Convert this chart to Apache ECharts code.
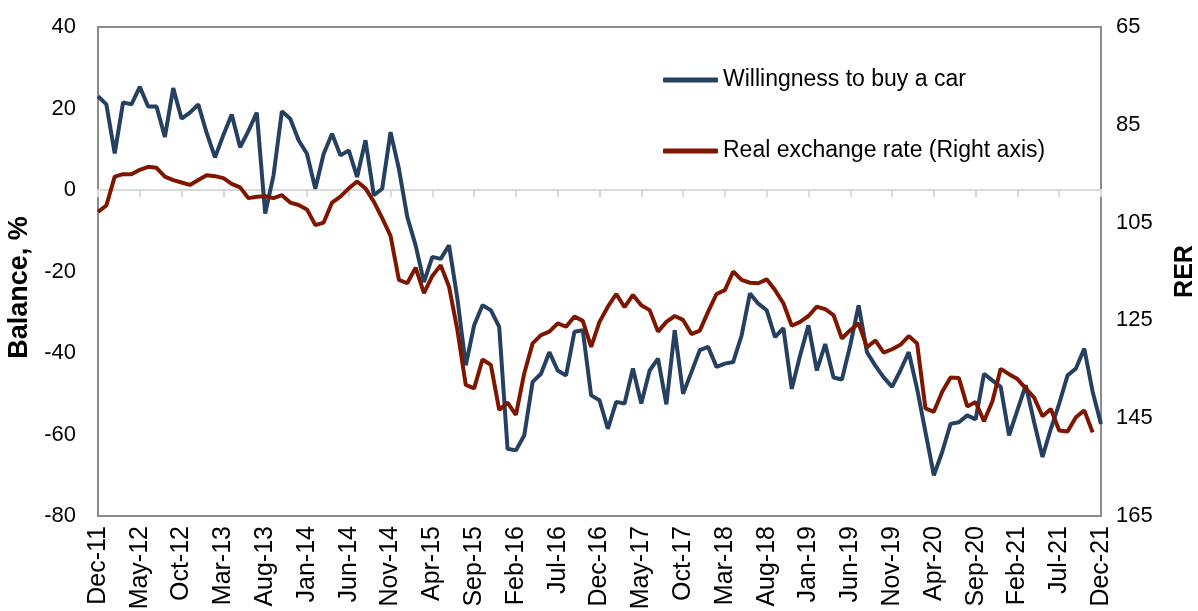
<!DOCTYPE html>
<html>
<head>
<meta charset="utf-8">
<script src="https://cdn.jsdelivr.net/npm/echarts@6/dist/echarts.min.js"></script>
<style>
  html, body { margin: 0; padding: 0; background: #fff; }
  #chart { width: 1198px; height: 611px; }
</style>
</head>
<body>
<div id="chart"></div>
<script>
// month labels Dec-11 .. Dec-21
var monthNames = ["Jan", "Feb", "Mar", "Apr", "May", "Jun", "Jul", "Aug", "Sep", "Oct", "Nov", "Dec"];
var categories = [];
for (var k = 0; k <= 120; k++) {
  var m = (11 + k) % 12;
  var yr = 11 + Math.floor((11 + k) / 12);
  categories.push(monthNames[m] + "-" + yr);
}

// Willingness to buy a car, balance %
var willingness = [
  23, 21, 9, 21.5, 21, 25.3, 20.5, 20.5, 13, 25,
  17.5, 19, 21, 14, 8, 13.5, 18.5, 10.5, 14.5, 19,
  -5.8, 3.6, 19.3, 17.5, 12.2, 8.9, 0.3, 8.9, 13.8, 8.5,
  9.7, 3.2, 12.2, -1.3, 0.3, 14.2, 5.2, -6.6, -13.6, -22.6,
  -16.4, -16.9, -13.6, -26.7, -43, -33.2, -28.3, -29.5, -33.6, -63.5,
  -63.9, -60.2, -47.1, -45.1, -39.8, -44.3, -45.5, -34.8, -34.4, -50.4,
  -51.6, -58.6, -52, -52.4, -43.8, -52.4, -44.3, -41.4, -52.6, -34.4,
  -50, -44.7, -39.3, -38.5, -43.4, -42.6, -42.2, -35.7, -25.4, -27.9,
  -29.5, -36.1, -33.9, -48.8, -40.6, -33.2, -44.3, -37.8, -46, -46.5,
  -38.1, -28.3, -39.8, -43.1, -46, -48.3, -44.3, -39.8, -48.8, -59.4,
  -70, -64.3, -57.4, -57, -55.3, -56.3, -45.1, -46.7, -48.3, -60.2,
  -54, -47.9, -57, -65.5, -58.6, -52.4, -45.5, -43.8, -38.9, -49.5,
  -57.4
];

// Real exchange rate (right axis, inverted)
var rer = [
  102.8, 101.5, 95.6, 95.1, 95.1, 94.2, 93.6, 93.8, 95.6, 96.3,
  96.8, 97.3, 96.3, 95.3, 95.5, 95.9, 97.1, 97.8, 100, 99.7,
  99.6, 100, 99.4, 100.9, 101.4, 102.3, 105.5, 105, 100.9, 99.7,
  98, 96.6, 98, 100.7, 104.1, 107.7, 116.7, 117.4, 114.2, 119.4,
  115.9, 113.7, 118.1, 127, 138.2, 138.9, 133, 134.1, 143.3, 141.8,
  144.3, 135.8, 129.7, 128, 127.3, 125.6, 126.3, 124.2, 125.1, 130.4,
  125.3, 122.2, 119.6, 122.3, 119.8, 121.9, 122.9, 127.3, 125.3, 124.1,
  124.9, 127.8, 127.1, 123.2, 119.6, 118.8, 115, 116.7, 117.3, 117.4,
  116.6, 118.8, 121.5, 126.1, 125.3, 124.1, 122.2, 122.7, 123.9, 128.7,
  127, 125.6, 130.5, 129.1, 131.6, 130.9, 130, 128.2, 129.7, 143,
  143.7, 139.6, 136.7, 136.8, 142.6, 141.7, 145.6, 141.6, 134.9, 136,
  137, 138.9, 140.8, 144.6, 143.1, 147.5, 147.7, 144.8, 143.4, 147.9,
  null
];

var fontFamily = "'Liberation Sans', Arial, sans-serif";
var chart = echarts.init(document.getElementById("chart"));

var option = {
  animation: false,
  textStyle: { fontFamily: fontFamily },
  grid: {
    left: 98,
    right: 97,
    top: 27,
    bottom: 95,
    containLabel: false,
    outerBoundsMode: "none",
    show: true,
    borderColor: "#8c8c8c",
    borderWidth: 2,
    backgroundColor: "transparent"
  },
  legend: {
    orient: "vertical",
    left: 663,
    top: 66,
    padding: 0,
    itemWidth: 55,
    itemHeight: 5,
    itemGap: 43,
    icon: "roundRect",
    textStyle: { fontSize: 23, color: "#000", fontFamily: fontFamily, lineHeight: 28 },
    data: ["Willingness to buy a car", "Real exchange rate (Right axis)"]
  },
  xAxis: [
    {
      type: "category",
      data: categories,
      boundaryGap: false,
      axisLine: { show: false, onZero: false },
      axisTick: { show: false },
      axisLabel: {
        interval: 4,
        rotate: 90,
        margin: 10,
        fontSize: 25,
        color: "#000",
        fontFamily: fontFamily
      },
      splitLine: { show: false }
    },
    {
      // zero line with small ticks
      type: "category",
      data: categories,
      boundaryGap: false,
      position: "bottom",
      axisLine: { show: true, onZero: true, onZeroAxisIndex: 0, lineStyle: { color: "#d9d9d9", width: 2 } },
      axisTick: { show: true, interval: 4, length: 7, lineStyle: { color: "#d9d9d9", width: 2 } },
      axisLabel: { show: false },
      splitLine: { show: false }
    }
  ],
  yAxis: [
    {
      type: "value",
      min: -80,
      max: 40,
      interval: 20,
      name: "Balance, %",
      nameLocation: "middle",
      nameRotate: 90,
      nameGap: 62,
      nameTextStyle: { fontSize: 27, fontWeight: "bold", color: "#000", fontFamily: fontFamily, padding: [0, 32, 0, 0] },
      axisLine: { show: false },
      axisTick: { show: false },
      splitLine: { show: false },
      axisLabel: { fontSize: 22, color: "#000", margin: 22, fontFamily: fontFamily }
    },
    {
      type: "value",
      min: 65,
      max: 165,
      interval: 20,
      inverse: true,
      name: "RER",
      nameLocation: "middle",
      nameRotate: 90,
      nameGap: 72,
      nameTextStyle: { fontSize: 25, fontWeight: "bold", color: "#000", fontFamily: fontFamily },
      axisLine: { show: false },
      axisTick: { show: false },
      splitLine: { show: false },
      axisLabel: { fontSize: 22, color: "#000", margin: 15, fontFamily: fontFamily }
    }
  ],
  series: [
    {
      name: "Willingness to buy a car",
      type: "line",
      xAxisIndex: 0,
      yAxisIndex: 0,
      data: willingness,
      showSymbol: false,
      symbol: "none",
      lineStyle: { color: "#254061", width: 4 },
      itemStyle: { color: "#254061" },
      z: 3
    },
    {
      name: "Real exchange rate (Right axis)",
      type: "line",
      xAxisIndex: 0,
      yAxisIndex: 1,
      data: rer,
      showSymbol: false,
      symbol: "none",
      lineStyle: { color: "#7f1700", width: 4 },
      itemStyle: { color: "#7f1700" },
      z: 4
    }
  ]
};

chart.setOption(option);
</script>
</body>
</html>
